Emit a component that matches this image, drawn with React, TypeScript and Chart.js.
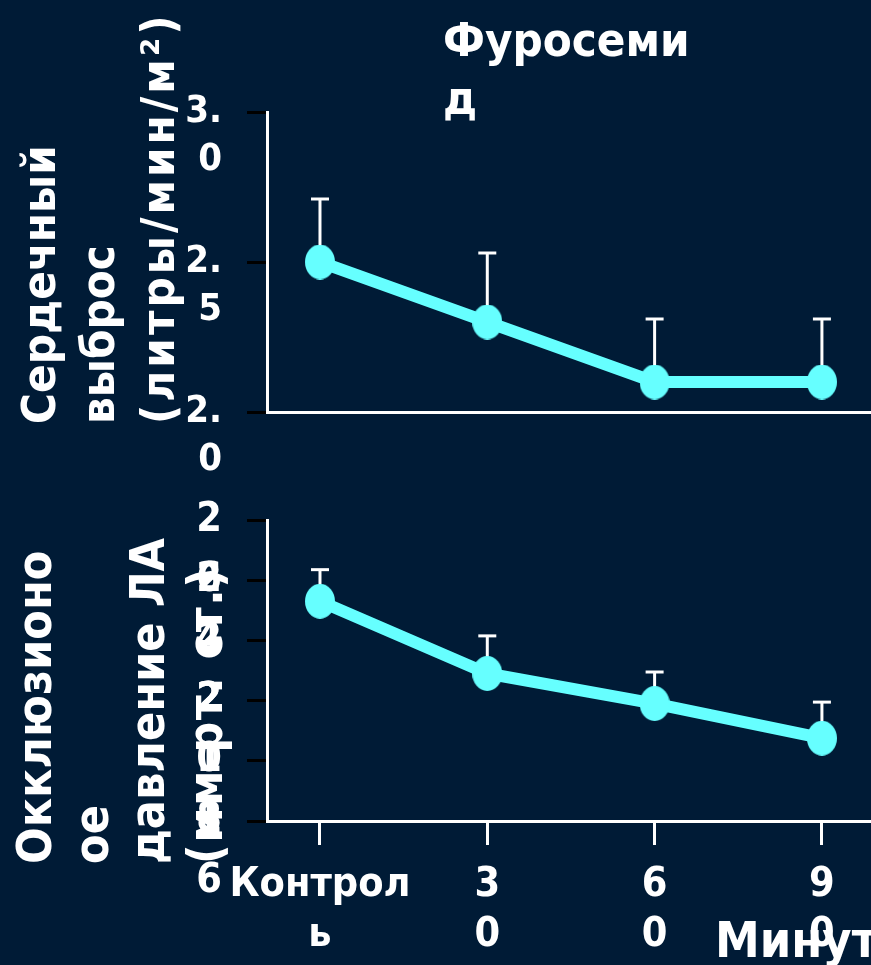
import React, { useEffect, useRef } from 'react';
import { Chart, registerables } from 'chart.js';

Chart.register(...registerables);

// Time points (minutes after the dose)
const minutes = [0, 30, 60, 90];
const timeTickLabels = [['Контрол', 'ь'], ['3', '0'], ['6', '0'], ['9', '0']];
const timeUnit = 'Минут';

// Cardiac output, mean and upper error bar end
const cardiacOutput = [2.5, 2.3, 2.1, 2.1];
const cardiacOutputUpper = [2.71, 2.53, 2.31, 2.31];
const cardiacTicks = [2.0, 2.5, 3.0];
const cardiacTickLabels = [['2.', '0'], ['2.', '5'], ['3.', '0']];

// LA occlusion pressure, mean and upper error bar end
const wedgePressure = [23.3, 20.9, 19.9, 18.75];
const wedgePressureUpper = [24.35, 22.15, 20.95, 19.95];
const wedgeTicks = [16, 18, 20, 22, 24, 26];
const wedgeTickLabels = [['1', '6'], ['1', '8'], ['2', '0'], ['2', '2'], ['2', '4'], ['2', '6']];

const drugTitle = ['Фуросеми', 'д'];
const cardiacTitle = ['Сердечный', 'выброс', '(литры/мин/м²)'];
const wedgeTitle = ['Окклюзионо', 'ое', 'давление ЛА', '(мм рт. ст.)'];

const W = 871;
const H = 965;
const BG = '#001b36';
const CYAN = '#66ffff';
const FAMILY = '"DejaVu Sans Condensed", "DejaVu Sans", sans-serif';
const X_MIN = -9.5;
const X_MAX = 98.8;

function makeDot(): HTMLCanvasElement {
  const c = document.createElement('canvas');
  c.width = 30;
  c.height = 35;
  const g = c.getContext('2d')!;
  g.fillStyle = CYAN;
  g.beginPath();
  g.ellipse(15, 17.5, 15, 17.5, 0, 0, Math.PI * 2);
  g.fill();
  return c;
}

function errorBars(values: number[], upper: number[]) {
  return {
    id: 'errorBars',
    beforeDatasetsDraw(chart: any) {
      const { ctx, scales } = chart;
      const x = scales.x;
      const y = scales.y;
      ctx.save();
      ctx.strokeStyle = '#ffffff';
      ctx.lineWidth = 3;
      minutes.forEach((m, i) => {
        const px = x.getPixelForValue(m);
        const p0 = y.getPixelForValue(values[i]);
        const p1 = y.getPixelForValue(upper[i]);
        ctx.beginPath();
        ctx.moveTo(px, p0);
        ctx.lineTo(px, p1);
        ctx.stroke();
        ctx.beginPath();
        ctx.moveTo(px - 9, p1);
        ctx.lineTo(px + 9, p1);
        ctx.stroke();
      });
      ctx.restore();
    },
  };
}

// Rotated multi-line axis title, each line starting at startY and reading upwards
function drawRotated(
  ctx: CanvasRenderingContext2D,
  lines: string[],
  baselines: number[],
  startY: number,
  size: number,
  spacing: number[],
) {
  ctx.save();
  ctx.font = `bold ${size}px ${FAMILY}`;
  ctx.fillStyle = '#ffffff';
  ctx.textAlign = 'left';
  ctx.textBaseline = 'alphabetic';
  lines.forEach((t, i) => {
    ctx.save();
    (ctx as any).letterSpacing = `${spacing[i] || 0}px`;
    ctx.translate(baselines[i], startY);
    ctx.rotate(-Math.PI / 2);
    ctx.fillText(t, 0, 0);
    ctx.restore();
  });
  ctx.restore();
}

function lineDataset(values: number[], dot: HTMLCanvasElement) {
  return {
    data: minutes.map((m, i) => ({ x: m, y: values[i] })),
    borderColor: CYAN,
    backgroundColor: CYAN,
    borderWidth: 12,
    borderJoinStyle: 'round' as const,
    pointStyle: dot,
    pointRadius: 16,
    pointHoverRadius: 16,
    tension: 0,
  };
}

function yTicksFor(values: number[], labels: string[][], size: number, lineHeight: number) {
  return {
    autoSkip: false,
    color: '#ffffff',
    padding: 25,
    labelOffset: lineHeight / 2,
    font: { family: FAMILY, weight: 'bold' as const, size, lineHeight: `${lineHeight}px` },
    callback: (v: number) => {
      const idx = values.findIndex((t) => Math.abs(t - v) < 1e-6);
      return idx >= 0 ? labels[idx] : '';
    },
  };
}

const yGrid = {
  display: true,
  drawOnChartArea: false,
  drawTicks: true,
  tickLength: 20,
  tickColor: '#000000',
  tickWidth: 3,
  lineWidth: 3,
  color: '#000000',
};

export default function App() {
  const topRef = useRef<HTMLCanvasElement>(null);
  const bottomRef = useRef<HTMLCanvasElement>(null);

  useEffect(() => {
    const dot = makeDot();

    const topTitles = {
      id: 'topTitles',
      afterDraw(chart: any) {
        const ctx = chart.ctx as CanvasRenderingContext2D;
        ctx.save();
        ctx.font = `bold 47px ${FAMILY}`;
        ctx.fillStyle = '#ffffff';
        ctx.textAlign = 'left';
        ctx.textBaseline = 'alphabetic';
        ctx.fillText(drugTitle[0], 443, 56);
        ctx.fillText(drugTitle[1], 443, 114);
        ctx.restore();
        drawRotated(ctx, cardiacTitle, [55, 114, 174], 424, 47, [0, 0, 3]);
      },
    };

    const top = new Chart(topRef.current!, {
      type: 'line',
      data: { datasets: [lineDataset(cardiacOutput, dot)] },
      plugins: [errorBars(cardiacOutput, cardiacOutputUpper), topTitles],
      options: {
        responsive: false,
        animation: false,
        events: [],
        layout: { autoPadding: false, padding: { top: 112, bottom: H - 412, left: 0, right: 0 } },
        plugins: { legend: { display: false }, tooltip: { enabled: false } },
        scales: {
          x: {
            type: 'linear',
            min: X_MIN,
            max: X_MAX,
            afterFit: (s: any) => { s.height = 0; },
            ticks: { display: false },
            grid: { display: false },
            border: { display: true, color: '#ffffff', width: 3 },
          },
          y: {
            type: 'linear',
            min: 2.0,
            max: 3.0,
            afterBuildTicks: (s: any) => { s.ticks = cardiacTicks.map((v) => ({ value: v })); },
            afterFit: (s: any) => { s.width = 267; },
            ticks: yTicksFor(cardiacTicks, cardiacTickLabels, 38, 48),
            grid: yGrid,
            border: { display: true, color: '#ffffff', width: 3 },
          },
        },
      },
    } as any);

    const bottomTitles = {
      id: 'bottomTitles',
      beforeDraw(chart: any) {
        const ctx = chart.ctx as CanvasRenderingContext2D;
        ctx.save();
        ctx.font = `bold 50px ${FAMILY}`;
        ctx.fillStyle = '#ffffff';
        ctx.textAlign = 'left';
        ctx.textBaseline = 'alphabetic';
        ctx.fillText(timeUnit, 715, 957);
        ctx.restore();
      },
      afterDraw(chart: any) {
        drawRotated(chart.ctx, wedgeTitle, [51, 108, 164, 222], 864, 48, [0, 0, 0, 1.5]);
      },
    };

    const bottom = new Chart(bottomRef.current!, {
      type: 'line',
      data: { datasets: [lineDataset(wedgePressure, dot)] },
      plugins: [errorBars(wedgePressure, wedgePressureUpper), bottomTitles],
      options: {
        responsive: false,
        animation: false,
        events: [],
        layout: { autoPadding: false, padding: { top: 520, bottom: 0, left: 0, right: 0 } },
        plugins: { legend: { display: false }, tooltip: { enabled: false } },
        scales: {
          x: {
            type: 'linear',
            min: X_MIN,
            max: X_MAX,
            afterBuildTicks: (s: any) => { s.ticks = minutes.map((v) => ({ value: v })); },
            afterFit: (s: any) => { s.height = H - 821; },
            ticks: {
              autoSkip: false,
              maxRotation: 0,
              minRotation: 0,
              color: '#ffffff',
              padding: 15,
              font: { family: FAMILY, weight: 'bold', size: 41, lineHeight: '50px' },
              callback: (v: number) => {
                const idx = minutes.indexOf(v);
                return idx >= 0 ? timeTickLabels[idx] : '';
              },
            },
            grid: {
              display: true,
              drawOnChartArea: false,
              drawTicks: true,
              tickLength: 24,
              tickColor: '#ffffff',
              tickWidth: 3,
              lineWidth: 3,
              color: '#ffffff',
            },
            border: { display: true, color: '#ffffff', width: 3 },
          },
          y: {
            type: 'linear',
            min: 16,
            max: 26,
            afterBuildTicks: (s: any) => { s.ticks = wedgeTicks.map((v) => ({ value: v })); },
            afterFit: (s: any) => { s.width = 267; },
            ticks: yTicksFor(wedgeTicks, wedgeTickLabels, 41, 60),
            grid: yGrid,
            border: { display: true, color: '#ffffff', width: 3 },
          },
        },
      },
    } as any);

    return () => {
      top.destroy();
      bottom.destroy();
    };
  }, []);

  const canvasStyle: React.CSSProperties = { position: 'absolute', left: 0, top: 0, width: W, height: H };

  return (
    <div style={{ position: 'absolute', left: 0, top: 0, width: W, height: H, background: BG, overflow: 'hidden' }}>
      <canvas ref={topRef} width={W} height={H} style={canvasStyle} />
      <canvas ref={bottomRef} width={W} height={H} style={canvasStyle} />
    </div>
  );
}
